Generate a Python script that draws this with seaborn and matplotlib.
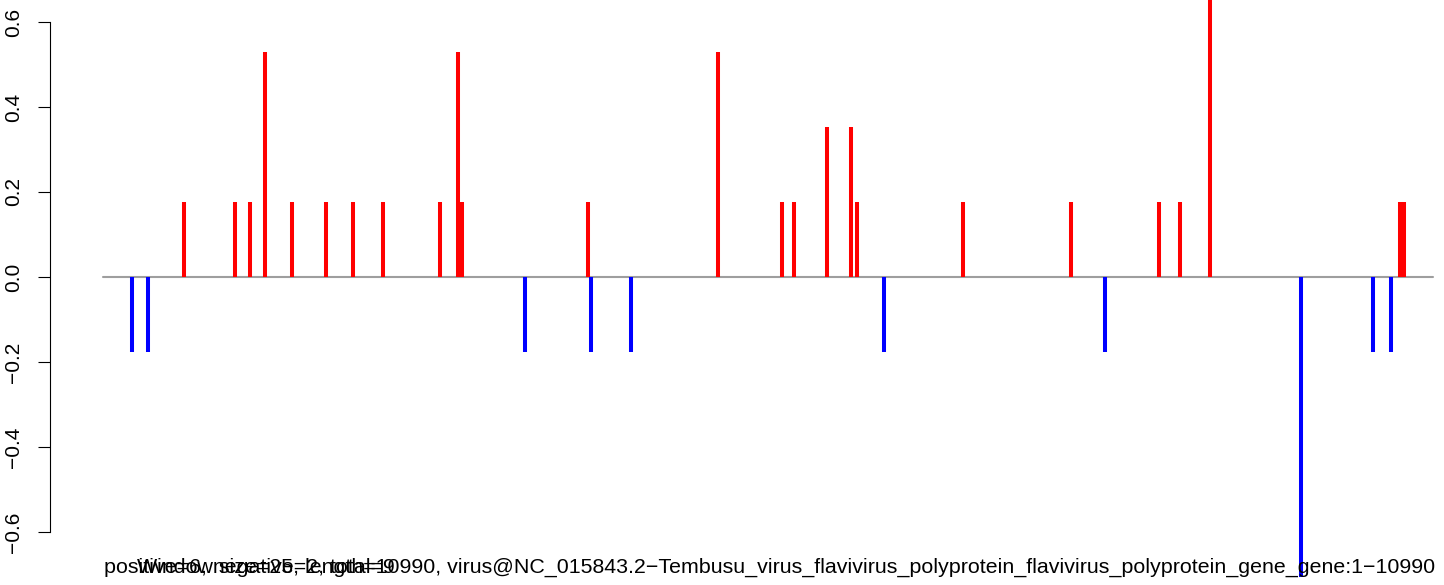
import numpy as np
import pandas as pd
import matplotlib
matplotlib.use("Agg")
import matplotlib.pyplot as plt
import seaborn as sns

# window scores along the genome (position, score)
positions = [241, 372, 669, 1091, 1215, 1338, 1562, 1842, 2066, 2313,
             2784, 2933, 2966, 3487, 4007, 4032, 4362, 5081, 5610, 5709,
             5982, 6180, 6230, 6453, 7106, 7998, 8279, 8725, 8898, 9146,
             9898, 10493, 10642, 10716, 10749]
scores = [-0.176, -0.176, 0.176, 0.176, 0.176, 0.529, 0.176, 0.176, 0.176, 0.176,
          0.176, 0.529, 0.176, -0.176, 0.176, -0.176, -0.176, 0.529, 0.176, 0.176,
          0.353, 0.353, 0.176, -0.176, 0.176, 0.176, -0.176, 0.176, 0.176, 0.706,
          -0.706, -0.176, -0.176, 0.176, 0.176]

genome_start = 1
genome_length = 10990
y_ticks = [-0.6, -0.4, -0.2, 0.0, 0.2, 0.4, 0.6]

count_label = "positive=6, negative=2, total=9"
sub_label = ("Window size=25, length=10990, virus@NC_015843.2\u2212Tembusu_virus_flavivirus_"
             "polyprotein_flavivirus_polyprotein_gene_gene:1\u221210990")

df = pd.DataFrame({"pos": positions, "score": scores})
df["color"] = np.where(df["score"] > 0, "red", "blue")

sns.set_style("white")
plt.rcParams["font.family"] = ["Liberation Sans", "DejaVu Sans"]
plt.rcParams["text.color"] = "black"
plt.rcParams["ytick.color"] = "black"
plt.rcParams["ytick.labelcolor"] = "black"

W, H = 1444, 585
fig = plt.figure(figsize=(W / 100, H / 100), dpi=100)
ax = fig.add_axes([0, 0, 1, 1])

# pixel -> data mapping
px_per_unit = 1330 / (genome_length - genome_start)
x_left = genome_start - 103 / px_per_unit
x_right = genome_start + (W - 103) / px_per_unit
ax.set_xlim(x_left, x_right)
ax.set_ylim(-(H - 277) / 425, 277 / 425)

# zero line across the genome
sns.lineplot(x=[genome_start, genome_length], y=[0, 0], color="#9e9e9e",
             linewidth=1.5, ax=ax, zorder=1)

ax.vlines(df["pos"], 0, df["score"], colors=df["color"], linewidth=2.9, zorder=2)

for s in ["top", "right", "bottom"]:
    ax.spines[s].set_visible(False)
ax.spines["left"].set_position(("axes", 50 / W))
ax.spines["left"].set_bounds(-0.6, 0.6)
ax.spines["left"].set_color("black")
ax.spines["left"].set_linewidth(0.8)
ax.set_xticks([])
ax.set_yticks(y_ticks)
ax.set_yticklabels([f"{v:.1f}".replace("-", "\u2212") for v in y_ticks],
                   rotation=90, va="center", fontsize=15, color="black")
ax.tick_params(axis="y", direction="out", length=8.5, width=0.8, pad=11, left=True,
               colors="black")

fs = 15.4
fig.text(104 / W, 1 - 573 / H, count_label, ha="left", va="baseline", fontsize=fs,
         color="black")
fig.text(786 / W, 1 - 573 / H, sub_label, ha="center", va="baseline", fontsize=fs,
         color="black")

fig.savefig("out.png", dpi=100)
